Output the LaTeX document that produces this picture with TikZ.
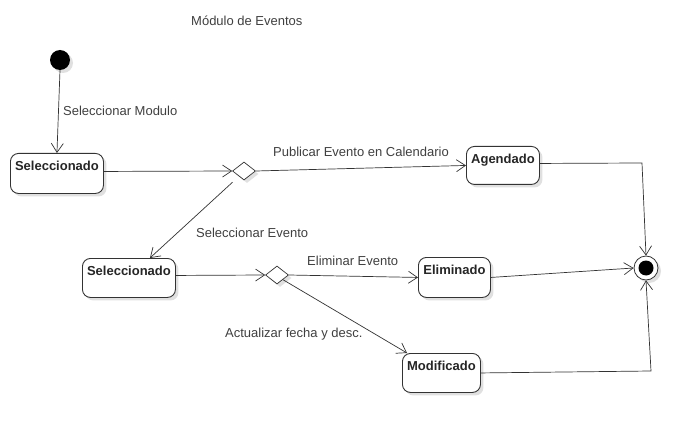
\documentclass[tikz,border=0pt]{standalone}
\usepackage{fontspec}
\setmainfont{Liberation Sans}
\usetikzlibrary{arrows.meta,shapes.geometric,shadows}
\definecolor{ink}{HTML}{333333}
\begin{document}
\begin{tikzpicture}[x=1pt,y=-1pt,
 font=\fontsize{13}{15}\selectfont,
 shad/.style={drop shadow={shadow xshift=3pt,shadow yshift=-3pt,fill=black!12,opacity=1}},
 state/.style={draw=ink,line width=0.9pt,rounded corners=8pt,fill=white,anchor=north west,inner sep=0pt,
   text=black!85,text height=17pt,text depth=23pt,font=\fontsize{13}{15}\selectfont\bfseries,shad},
 choice/.style={diamond,draw=ink,fill=white,line width=0.7pt,minimum width=23pt,minimum height=18pt,inner sep=0pt,shad},
 flow/.style={draw=ink,line width=0.7pt,-{Straight Barb[length=9pt,width=12pt]}},
 lbl/.style={text=black!75,anchor=west,inner sep=0pt}]
\useasboundingbox (0,0) rectangle (699,433);
\fill[white] (0,0) rectangle (699,433);

\node[lbl] (title) at (191,21) {Módulo de Eventos};

\node[circle,fill=black,minimum size=20pt,inner sep=0pt,shad] (init) at (60,60) {};

\node[state,minimum width=93pt] (sel1) at (10,153) {Seleccionado};
\node[choice] (d1) at (244,171) {};
\node[state,minimum width=73pt,text depth=21pt] (ag) at (466,146) {Agendado};
\node[state,minimum width=93pt,text depth=22pt] (sel2) at (82,258) {Seleccionado};
\node[choice] (d2) at (277,275) {};
\node[state,minimum width=72pt] (elim) at (418,257) {Eliminado};
\node[state,minimum width=78pt,text depth=22pt] (mod) at (402,353) {Modificado};

\node[circle,draw=ink,fill=white,line width=0.8pt,minimum size=24pt,inner sep=0pt,shad] (fin) at (646,268) {};
\node[circle,fill=black,minimum size=15pt,inner sep=0pt] (finc) at (fin) {};

\coordinate (c1) at (642,163);
\coordinate (c2) at (651,371);

\draw[flow] (init.south) -- (sel1.north);
\node[lbl] (l1) at (63,111) {Seleccionar Modulo};

\draw[flow] ([yshift=2pt]sel1.east) -- (d1.west);
\draw[flow] (d1.east) -- (ag.west);
\node[lbl] (l2) at (273,152) {Publicar Evento en Calendario};

\draw[flow] ([yshift=2pt]ag.east) -- (c1) -- (fin.north);

\draw[flow] ([xshift=-5.5pt,yshift=-6.5pt]d1.south west) -- ([xshift=21pt]sel2.north);
\node[lbl] (l3) at (196,233) {Seleccionar Evento};

\draw[flow] ([yshift=2.5pt]sel2.east) -- (d2.west);
\draw[flow] (d2.east) -- (elim.west);
\node[lbl] (l4) at (307,261) {Eliminar Evento};

\draw[flow] (elim.east) -- (fin.west);

\draw[flow] (d2.south east) -- ([xshift=5pt]mod.north west);
\node[lbl] (l5) at (225,334) {Actualizar fecha y desc.};

\draw[flow] (mod.east) -- (c2) -- (fin.south);
\end{tikzpicture}
\end{document}
